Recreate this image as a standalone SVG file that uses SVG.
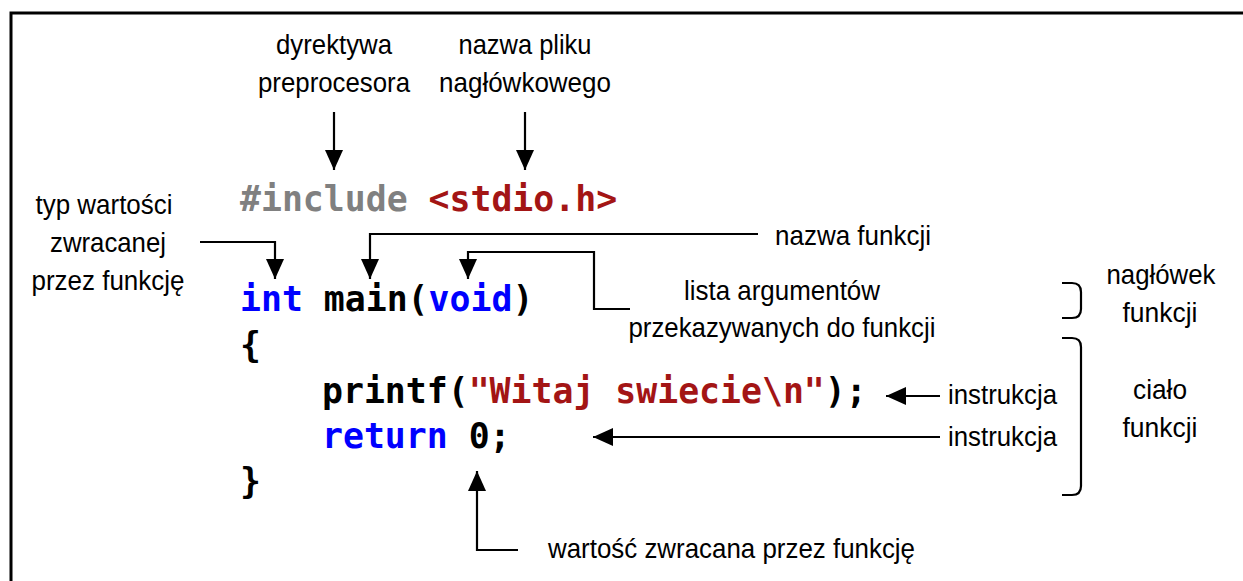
<svg xmlns="http://www.w3.org/2000/svg" width="1243" height="581" viewBox="0 0 1243 581">
<style>
.lbl{font-family:"Liberation Sans",Arial,sans-serif;font-size:27.5px;fill:#000;text-anchor:middle}
.lbll{font-family:"Liberation Sans",Arial,sans-serif;font-size:27.5px;fill:#000}
.code{font-family:"DejaVu Sans Mono","Liberation Mono",monospace;font-size:34.8px;font-weight:bold;fill:#000}
.kw{fill:#0000ff}
.str{fill:#a31515}
.pp{fill:#808080}
.ln{fill:none;stroke:#000;stroke-width:2.2}
.br{fill:none;stroke:#000;stroke-width:2.2}
</style>
<defs>
<marker id="ah" markerUnits="userSpaceOnUse" markerWidth="22" markerHeight="20" refX="20" refY="9" orient="auto">
<path d="M0,0 L20,9 L0,18 Z" fill="#000"/>
</marker>
</defs>
<rect width="1243" height="581" fill="#fff"/>
<g id="frame">
<path d="M11,581 L11,13 L1243,13" fill="none" stroke="#000" stroke-width="3"/>
</g>
<g id="code">
<text class="code" x="240" y="211"><tspan class="pp">#include</tspan> <tspan class="str">&lt;stdio.h&gt;</tspan></text>
<text class="code" x="240" y="311"><tspan class="kw">int</tspan> main(<tspan class="kw">void</tspan>)</text>
<text class="code" x="240" y="357">{</text>
<text class="code" x="322" y="403">printf(<tspan class="str">"Witaj swiecie\n"</tspan>);</text>
<text class="code" x="322" y="448"><tspan class="kw">return</tspan> 0;</text>
<text class="code" x="240" y="493">}</text>
</g>
<g id="n-dyrektywa">
<text class="lbl" x="334" y="54" textLength="116" lengthAdjust="spacingAndGlyphs">dyrektywa</text>
<text class="lbl" x="334" y="92" textLength="152" lengthAdjust="spacingAndGlyphs">preprocesora</text>
</g>
<g id="n-nazwa-pliku">
<text class="lbl" x="525" y="54" textLength="133" lengthAdjust="spacingAndGlyphs">nazwa pliku</text>
<text class="lbl" x="525" y="92" textLength="172" lengthAdjust="spacingAndGlyphs">nagłówkowego</text>
</g>
<g id="n-typ">
<text class="lbl" x="104" y="214" textLength="137" lengthAdjust="spacingAndGlyphs">typ wartości</text>
<text class="lbl" x="108" y="252" textLength="116" lengthAdjust="spacingAndGlyphs">zwracanej</text>
<text class="lbl" x="108" y="290" textLength="153" lengthAdjust="spacingAndGlyphs">przez funkcję</text>
</g>
<g id="n-nazwa-funkcji">
<text class="lbll" x="775" y="245" textLength="156" lengthAdjust="spacingAndGlyphs">nazwa funkcji</text>
</g>
<g id="n-lista">
<text class="lbl" x="782" y="300" textLength="196" lengthAdjust="spacingAndGlyphs">lista argumentów</text>
<text class="lbl" x="782" y="337" textLength="307" lengthAdjust="spacingAndGlyphs">przekazywanych do funkcji</text>
</g>
<g id="n-naglowek">
<text class="lbl" x="1161" y="284" textLength="109" lengthAdjust="spacingAndGlyphs">nagłówek</text>
<text class="lbl" x="1160" y="322" textLength="75" lengthAdjust="spacingAndGlyphs">funkcji</text>
<path class="br" d="M1062,283 H1072 Q1081,283 1081,292 V309 Q1081,318 1072,318 H1062"/>
</g>
<g id="n-cialo">
<text class="lbl" x="1160" y="399" textLength="54" lengthAdjust="spacingAndGlyphs">ciało</text>
<text class="lbl" x="1160" y="437" textLength="75" lengthAdjust="spacingAndGlyphs">funkcji</text>
<path class="br" d="M1062,338 H1072 Q1081,338 1081,347 V486 Q1081,495 1072,495 H1062"/>
</g>
<g id="n-instr1">
<text class="lbll" x="948" y="404" textLength="109" lengthAdjust="spacingAndGlyphs">instrukcja</text>
</g>
<g id="n-instr2">
<text class="lbll" x="948" y="446" textLength="109" lengthAdjust="spacingAndGlyphs">instrukcja</text>
</g>
<g id="n-wartosc">
<text class="lbll" x="548" y="558" textLength="367" lengthAdjust="spacingAndGlyphs">wartość zwracana przez funkcję</text>
</g>
<g id="connectors">
<path class="ln" d="M334,112 V170" marker-end="url(#ah)"/>
<path class="ln" d="M525,112 V170" marker-end="url(#ah)"/>
<path class="ln" d="M200,242 H275 V279" marker-end="url(#ah)"/>
<path class="ln" d="M758,234 H370 V279" marker-end="url(#ah)"/>
<path class="ln" d="M630,309 H594 V252 H468 V279" marker-end="url(#ah)"/>
<path class="ln" d="M940,396 H886" marker-end="url(#ah)"/>
<path class="ln" d="M940,437 H593" marker-end="url(#ah)"/>
<path class="ln" d="M518,550 H477 V471" marker-end="url(#ah)"/>
</g>
</svg>
